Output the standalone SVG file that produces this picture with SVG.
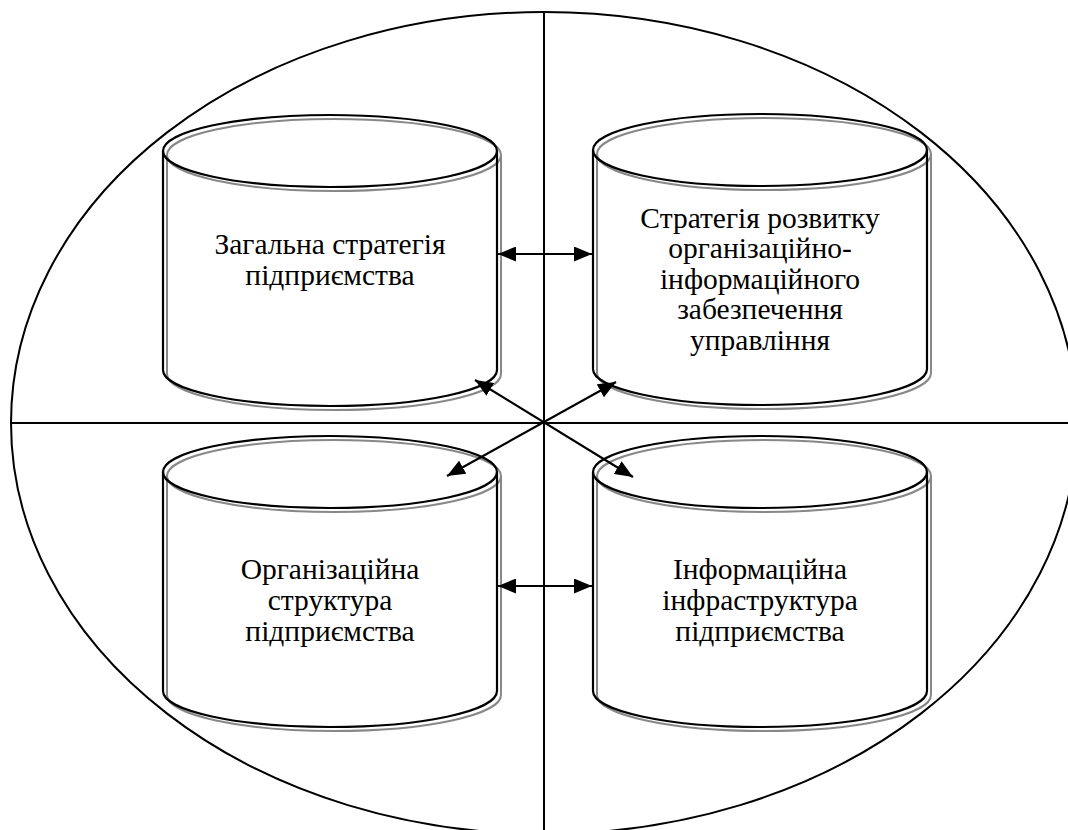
<svg xmlns="http://www.w3.org/2000/svg" width="1068" height="830" viewBox="0 0 1068 830">
<style>
.bg{fill:#ffffff}
.frame{fill:none;stroke:#000;stroke-width:2}
.sh{fill:none;stroke:#888888;stroke-width:2}
.cy{fill:none;stroke:#000;stroke-width:2.2}
.conn{fill:none;stroke:#000;stroke-width:2.2;marker-start:url(#ah);marker-end:url(#ah)}
.lbl{font-size:29.5px;fill:#000;text-anchor:middle}
</style>
<defs>
<marker id="ah" viewBox="0 0 18 15" refX="18" refY="7.5" markerWidth="18" markerHeight="15" markerUnits="userSpaceOnUse" orient="auto-start-reverse">
<path d="M0,0 L18,7.5 L0,15 Z" fill="#000"/>
</marker>
<g id="cyl">
<path class="sh" transform="translate(4,4)" d="M0,0 L0,219 A167,36 0 0 0 334,219 L334,0"/>
<ellipse class="sh" transform="translate(4,4)" cx="167" cy="0" rx="167" ry="36"/>
<path class="cy" d="M0,0 L0,219 A167,36 0 0 0 334,219 L334,0"/>
<ellipse class="cy" cx="167" cy="0" rx="167" ry="36"/>
</g>
</defs>
<rect class="bg" x="0" y="0" width="1068" height="830"/>
<g id="frame">
<ellipse class="frame" cx="544" cy="423" rx="533" ry="411"/>
<line class="frame" x1="11" y1="423" x2="1068" y2="423"/>
<line class="frame" x1="544" y1="12" x2="544" y2="830"/>
</g>
<g font-family="Liberation Serif">
<g id="node-general">
<use href="#cyl" x="163" y="151"/>
<text class="lbl" x="330" y="254">Загальна стратегія</text>
<text class="lbl" x="330" y="285">підприємства</text>
</g>
<g id="node-strategy">
<use href="#cyl" x="593" y="150"/>
<text class="lbl" x="760" y="228">Стратегія розвитку</text>
<text class="lbl" x="760" y="258">організаційно-</text>
<text class="lbl" x="760" y="289">інформаційного</text>
<text class="lbl" x="760" y="319">забезпечення</text>
<text class="lbl" x="760" y="350">управління</text>
</g>
<g id="node-org">
<use href="#cyl" x="163" y="472"/>
<text class="lbl" x="330" y="579">Організаційна</text>
<text class="lbl" x="330" y="610">структура</text>
<text class="lbl" x="330" y="641">підприємства</text>
</g>
<g id="node-info">
<use href="#cyl" x="593" y="472"/>
<text class="lbl" x="760" y="579">Інформаційна</text>
<text class="lbl" x="760" y="610">інфраструктура</text>
<text class="lbl" x="760" y="641">підприємства</text>
</g>
</g>
<g id="connectors">
<line class="conn" x1="498" y1="254" x2="592" y2="254"/>
<line class="conn" x1="498" y1="586" x2="592" y2="586"/>
<line class="conn" x1="475" y1="380" x2="633" y2="477"/>
<line class="conn" x1="616" y1="382" x2="447" y2="476"/>
</g>
</svg>
